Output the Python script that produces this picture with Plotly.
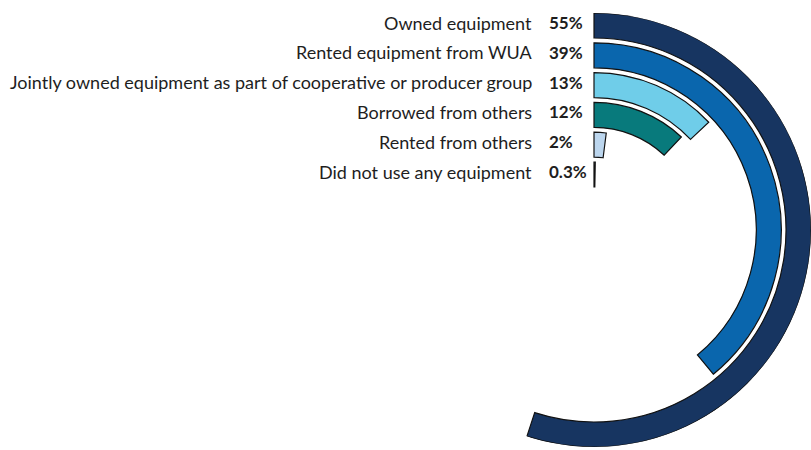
import plotly.graph_objects as go

# Equipment sources, outermost ring first
categories = [
    "Owned equipment",
    "Rented equipment from WUA",
    "Jointly owned equipment as part of cooperative or producer group",
    "Borrowed from others",
    "Rented from others",
    "Did not use any equipment",
]
shares = [55, 39, 13, 12, 2, 0.3]
share_labels = ["55%", "39%", "13%", "12%", "2%", "0.3%"]
colors = ["#173561", "#0a66ad", "#6fcde9", "#087a7c", "#bcd6ee", "#bcd6ee"]

W, H = 811, 450
R_MAX = 217          # radial axis range (px-like units)
HOLE = 43            # radius of innermost ring's inner edge
STEP = 29.8          # distance between rings
THICK = 25           # ring thickness
CX, CY = 594, 230    # centre of the polar area in pixels

n = len(categories)
bases = [HOLE + STEP * (n - 1 - i) for i in range(n)]

fig = go.Figure()
for cat, v, col, b in zip(categories, shares, colors, bases):
    fig.add_trace(go.Barpolar(
        r=[THICK],
        base=[b],
        theta=[v * 3.6 / 2],
        width=[v * 3.6],
        marker=dict(color=col, line=dict(color="#111111", width=1.2)),
        name=cat,
        hoverinfo="name",
    ))

# Row labels beside each ring
annotations = []
for cat, lab, b in zip(categories, share_labels, bases):
    y_px = CY - (b + THICK / 2) - 3
    yp = 1 - y_px / H
    annotations.append(dict(
        x=534 / W, y=yp, xref="paper", yref="paper",
        text=cat, showarrow=False, xanchor="right", yanchor="middle",
        font=dict(family="Lato", size=18, color="#1e1e1e"),
    ))
    annotations.append(dict(
        x=547 / W, y=yp, xref="paper", yref="paper",
        text="<b>" + lab + "</b>", showarrow=False, xanchor="left", yanchor="middle",
        font=dict(family="Lato", size=17, color="#1e1e1e"),
    ))

fig.update_layout(
    width=W, height=H,
    margin=dict(l=0, r=0, t=0, b=0),
    paper_bgcolor="white",
    showlegend=False,
    annotations=annotations,
    polar=dict(
        domain=dict(x=[(CX - R_MAX) / W, (CX + R_MAX) / W],
                    y=[1 - (CY + R_MAX) / H, 1 - (CY - R_MAX) / H]),
        bgcolor="white",
        radialaxis=dict(range=[0, R_MAX], visible=False),
        angularaxis=dict(rotation=90, direction="clockwise", visible=False,
                         type="linear", thetaunit="degrees"),
        bargap=0,
    ),
)

fig.write_html("out.html")
